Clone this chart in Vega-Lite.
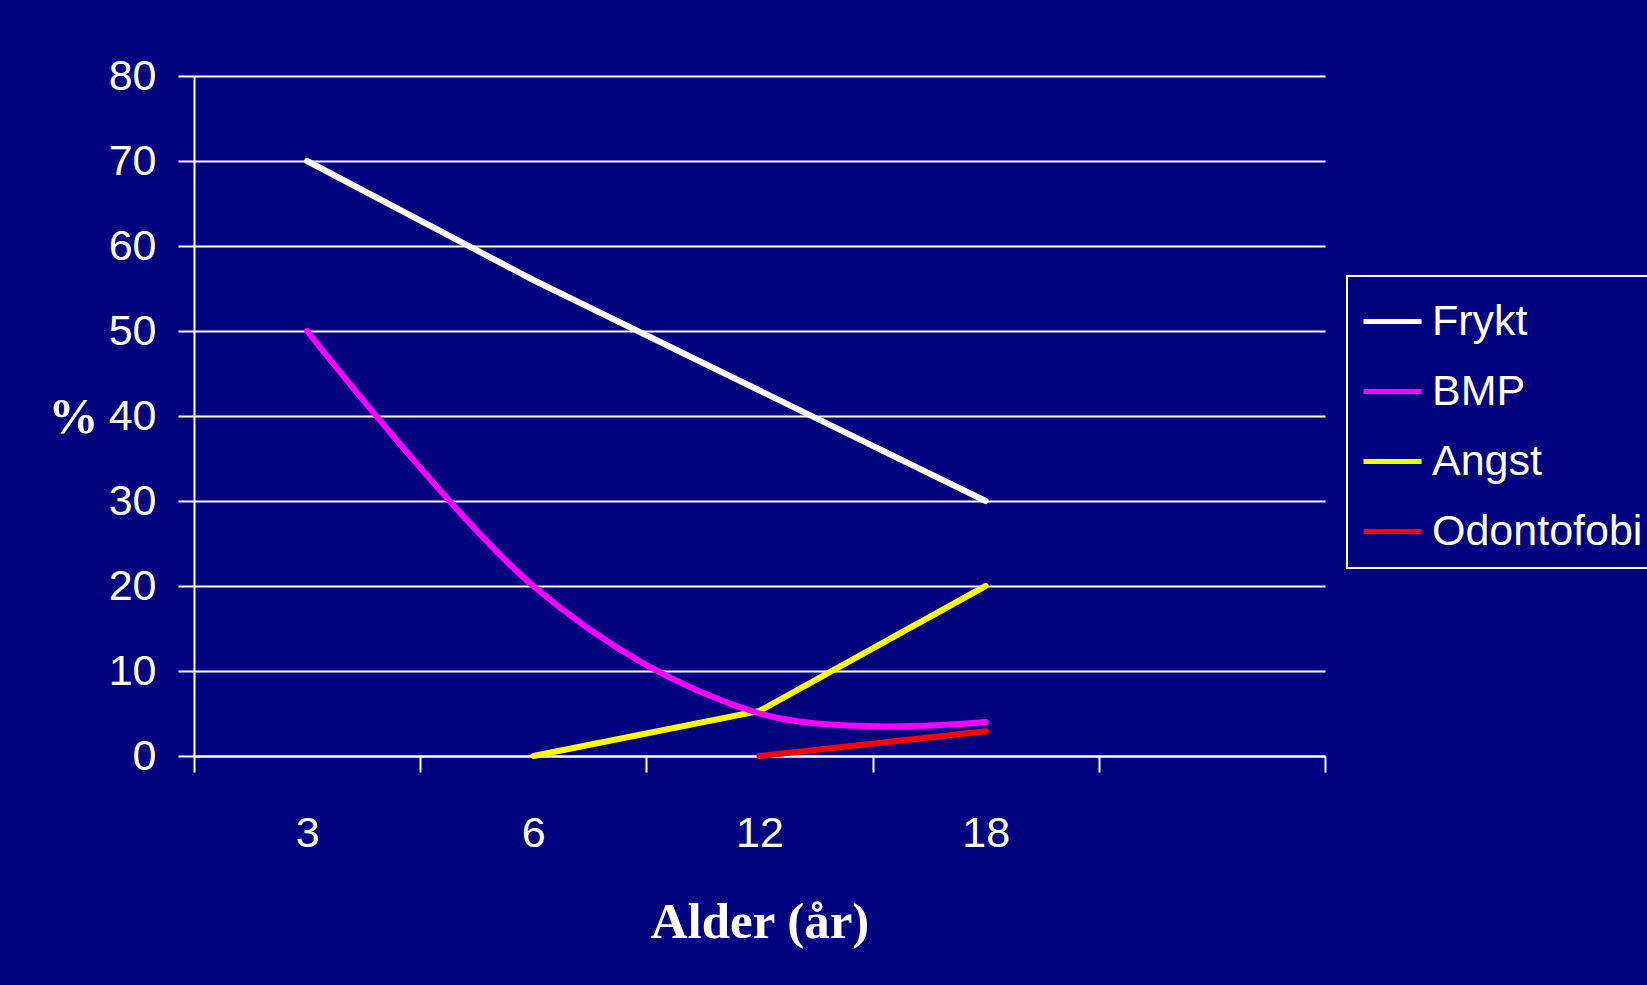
{
  "$schema": "https://vega.github.io/schema/vega-lite/v6.json",
  "width": 1131,
  "height": 680,
  "autosize": "none",
  "padding": {"left": 194, "top": 76, "right": 322, "bottom": 229},
  "background": "#00037e",
  "data": {
    "values": [
      {"series": "Frykt", "age": "3", "pct": 70},
      {"series": "Frykt", "age": "6", "pct": 56},
      {"series": "Frykt", "age": "12", "pct": 43},
      {"series": "Frykt", "age": "18", "pct": 30},
      {"series": "BMP", "age": "3", "pct": 50},
      {"series": "BMP", "age": "6", "pct": 20},
      {"series": "BMP", "age": "12", "pct": 5},
      {"series": "BMP", "age": "18", "pct": 4},
      {"series": "Angst", "age": "6", "pct": 0},
      {"series": "Angst", "age": "12", "pct": 5.3},
      {"series": "Angst", "age": "18", "pct": 20},
      {"series": "Odontofobi", "age": "12", "pct": 0},
      {"series": "Odontofobi", "age": "18", "pct": 2.9}
    ]
  },
  "encoding": {
    "x": {
      "field": "age",
      "type": "ordinal",
      "sort": null,
      "scale": {"type": "band", "domain": ["3", "6", "12", "18", " "], "paddingInner": 0, "paddingOuter": 0},
      "axis": {
        "title": "Alder (år)",
        "tickBand": "extent",
        "grid": false,
        "domain": true,
        "domainColor": "white",
        "domainWidth": 2,
        "ticks": true,
        "tickColor": "white",
        "tickWidth": 2,
        "tickSize": 16,
        "labelAngle": 0,
        "labelFont": "Liberation Sans, Arial, sans-serif",
        "labelFontSize": 43,
        "labelColor": "white",
        "labelPadding": 40,
        "titleFont": "Liberation Serif, Times New Roman, serif",
        "titleFontWeight": "bold",
        "titleFontSize": 51,
        "titleColor": "white",
        "titleBaseline": "alphabetic",
        "titleY": 181
      }
    },
    "y": {
      "field": "pct",
      "type": "quantitative",
      "scale": {"domain": [0, 80], "nice": false},
      "axis": {
        "title": "%",
        "values": [0, 10, 20, 30, 40, 50, 60, 70, 80],
        "grid": true,
        "gridColor": "white",
        "gridWidth": 2,
        "gridOpacity": 1,
        "domain": true,
        "domainColor": "white",
        "domainWidth": 2,
        "tickColor": "white",
        "tickWidth": 2,
        "tickSize": 16,
        "labelFont": "Liberation Sans, Arial, sans-serif",
        "labelFontSize": 43,
        "labelColor": "white",
        "labelPadding": 22,
        "titleFont": "Liberation Serif, Times New Roman, serif",
        "titleFontWeight": "bold",
        "titleFontSize": 50,
        "titleColor": "white",
        "titleAngle": 0,
        "titleAlign": "center",
        "titleBaseline": "middle",
        "titleX": -121,
        "titleY": 341
      }
    },
    "color": {
      "field": "series",
      "type": "nominal",
      "scale": {
        "domain": ["Frykt", "BMP", "Angst", "Odontofobi"],
        "range": ["#ffffff", "#ff00ff", "#ffff00", "#ff0000"]
      },
      "legend": {
        "title": null,
        "orient": "none",
        "legendX": 1153,
        "legendY": 200,
        "symbolType": "stroke",
        "symbolSize": 3364,
        "symbolStrokeWidth": 5,
        "labelFont": "Liberation Sans, Arial, sans-serif",
        "labelFontSize": 43,
        "labelColor": "white",
        "labelOffset": 8,
        "labelLimit": 500,
        "rowPadding": 16,
        "padding": 14,
        "strokeColor": "white"
      }
    }
  },
  "layer": [
    {
      "transform": [{"filter": "datum.series !== 'BMP'"}],
      "mark": {"type": "line", "strokeWidth": 6, "interpolate": "linear", "strokeCap": "round"}
    },
    {
      "transform": [{"filter": "datum.series === 'BMP'"}],
      "mark": {"type": "line", "strokeWidth": 6, "interpolate": "cardinal", "strokeCap": "round"}
    }
  ],
  "config": {
    "view": {"stroke": null},
    "legend": {"strokeWidth": 2}
  }
}
